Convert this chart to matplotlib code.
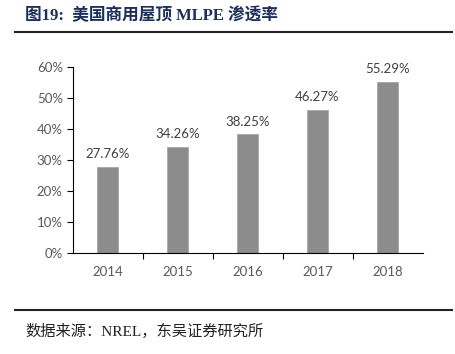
import matplotlib
matplotlib.use("Agg")
import matplotlib.pyplot as plt
from matplotlib.lines import Line2D

plt.rcParams['font.family'] = ['Lato', 'Noto Sans CJK SC', 'DejaVu Sans']

years = ["2014", "2015", "2016", "2017", "2018"]
rates = [27.76, 34.26, 38.25, 46.27, 55.29]
yticks = [0, 10, 20, 30, 40, 50, 60]

fig = plt.figure(figsize=(4.55, 3.54), dpi=100)
ax = fig.add_axes([72.5 / 455, 1 - 253 / 354, 350 / 455, 186 / 354])

x = list(range(len(years)))
ax.bar(x, rates, width=0.3, color="#8c8c8c", edgecolor="#a6a6a6", linewidth=0.6, zorder=2)
for xi, v in zip(x, rates):
    ax.text(xi, v + 2.2, "%.2f%%" % v, ha="center", va="bottom", fontsize=9.5, color="#404040")

ax.set_xlim(-0.5, len(years) - 0.5)
ax.set_ylim(0, 60)
ax.set_yticks(yticks)
ax.set_yticklabels(["%d%%" % t for t in yticks], fontsize=9.5, color="#595959")
ax.set_xticks(x)
ax.set_xticklabels(years, fontsize=9.5, color="#595959")
ax.tick_params(axis="x", length=0, pad=9)
ax.set_xticks([i + 0.5 for i in range(len(years) - 1)], minor=True)
ax.tick_params(axis="x", which="minor", length=4, direction="out", color="#000000", width=0.8)
ax.tick_params(axis="y", length=4, direction="out", color="#000000", width=0.8, pad=3)
for s in ["top", "right"]:
    ax.spines[s].set_visible(False)
ax.spines["left"].set_linewidth(0.8)
ax.spines["bottom"].set_linewidth(0.8)

fig.text(25 / 455, 1 - 16 / 354, "图19:  美国商用屋顶 MLPE 渗透率", fontsize=12, fontweight="bold",
         color="#1c2f5a", va="center", ha="left", family=['Liberation Serif', 'Noto Sans CJK SC'])
fig.add_artist(Line2D([15 / 455, 452 / 455], [1 - 31.5 / 354, 1 - 31.5 / 354], color="#222222", lw=1.5))
fig.add_artist(Line2D([15 / 455, 452 / 455], [1 - 310 / 354, 1 - 310 / 354], color="#222222", lw=1.5))
fig.text(25 / 455, 1 - 331 / 354, "数据来源：NREL，东吴证券研究所", fontsize=11, color="#222222",
         va="center", ha="left", family=['Liberation Serif', 'Noto Sans CJK SC'])

fig.savefig("out.png", dpi=100)
